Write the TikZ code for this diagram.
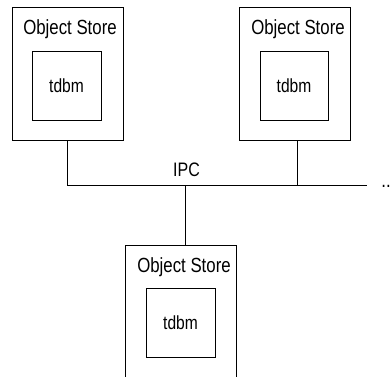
\documentclass[tikz,border=0pt]{standalone}
\usepackage{fontspec}
\setmainfont{Liberation Sans}[FakeStretch=0.82]
\begin{document}
\begin{tikzpicture}[x=1pt,y=-1pt,
  line width=0.8pt,
  outerbox/.style={draw,rectangle,inner sep=0pt,minimum width=111pt,minimum height=133pt},
  innerbox/.style={draw,rectangle,inner sep=0pt,minimum width=69pt,minimum height=69pt,font=\fontsize{19}{22}\selectfont},
  lbl/.style={anchor=base,inner sep=0pt,font=\fontsize{20.5}{24}\selectfont}]
\clip (0,0) rectangle (391,377);
\fill[white] (0,0) rectangle (391,377);
% store 1
\node[outerbox] (os1) at (67.5,73.5) {};
\node[innerbox] (db1) at (66.5,85.5) {tdbm};
\node[lbl] (t1) at (70,34.5) {Object Store};
% store 2
\node[outerbox,minimum width=110.5pt] (os2) at (294.7,73.7) {};
\node[innerbox,minimum width=68pt] (db2) at (294,85.5) {tdbm};
\node[lbl] (t2) at (298,34.5) {Object Store};
% store 3 (cut off at bottom)
\node[outerbox] (os3) at (181.2,311.5) {};
\node[innerbox] (db3) at (180.5,323) {tdbm};
\node[lbl] (t3) at (184,272) {Object Store};
% bus
\coordinate (busend) at (367,185.5);
\coordinate (j1) at (os1.south |- busend);
\coordinate (j2) at (297,185.5);
\coordinate (j3) at (185,185.5);
\draw (os1.south) -- (j1) -- (busend);
\draw (j2 |- os2.south) -- (j2);
\draw (j3) -- (j3 |- os3.north);
\node[lbl,font=\fontsize{19.5}{23}\selectfont] (ipc) at (186.5,176.7) {IPC};
\node[lbl,anchor=base west] (dots) at (381,187.5) {..};
\end{tikzpicture}
\end{document}
